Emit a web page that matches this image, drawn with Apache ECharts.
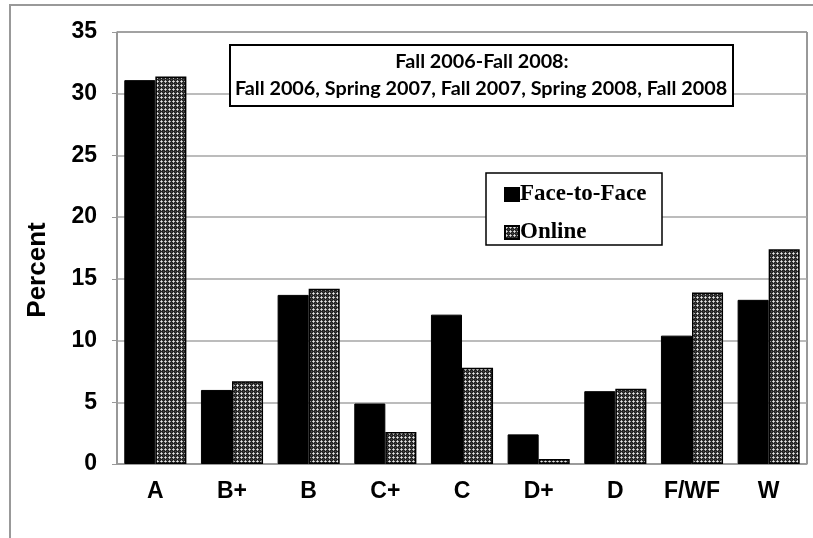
<!DOCTYPE html>
<html>
<head>
<meta charset="utf-8">
<script src="https://cdn.jsdelivr.net/npm/echarts@6/dist/echarts.min.js"></script>
<style>
  html, body { margin: 0; padding: 0; background: #fff; }
  #chart { width: 813px; height: 538px; }
</style>
</head>
<body>
<div id="chart"></div>
<script>
const categories = ['A', 'B+', 'B', 'C+', 'C', 'D+', 'D', 'F/WF', 'W'];
const faceToFace = [31.1, 6.0, 13.7, 4.9, 12.1, 2.4, 5.9, 10.4, 13.3];
const online = [31.4, 6.7, 14.2, 2.6, 7.8, 0.4, 6.1, 13.9, 17.4];
const yTicks = { min: 0, max: 35, interval: 5 };
const titleLines = ['Fall 2006-Fall 2008:', 'Fall 2006, Spring 2007, Fall 2007, Spring 2008, Fall 2008'];
const seriesNames = ['Face-to-Face', 'Online'];
const yAxisTitle = 'Percent';

function makePattern() {
  const c = document.createElement('canvas');
  c.width = 4; c.height = 4;
  const ctx = c.getContext('2d');
  const px = [
    ['#262626', '#b4b4b4', '#262626', '#262626'],
    ['#b4b4b4', '#e8e8e8', '#b4b4b4', '#262626'],
    ['#262626', '#b4b4b4', '#262626', '#262626'],
    ['#262626', '#262626', '#262626', '#4a4a4a']
  ];
  for (let y = 0; y < 4; y++) for (let x = 0; x < 4; x++) {
    ctx.fillStyle = px[y][x];
    ctx.fillRect(x, y, 1, 1);
  }
  return c;
}

const chart = echarts.init(document.getElementById('chart'), null, { renderer: 'canvas' });
const pattern = { image: makePattern(), repeat: 'repeat' };

chart.setOption({
  animation: false,
  backgroundColor: '#fff',
  grid: { left: 117, right: 6, top: 32, bottom: 74, show: true, borderColor: '#333', borderWidth: 1, backgroundColor: 'transparent' },
  legend: {
    orient: 'vertical',
    left: 499, top: 178,
    itemWidth: 14, itemHeight: 13, itemGap: 15,
    icon: 'rect',
    z: 20,
    textStyle: { fontFamily: 'Liberation Serif', fontWeight: 'bold', fontSize: 23, color: '#000', lineHeight: 22, padding: [0, 0, 0, -4] },
    data: seriesNames
  },
  xAxis: {
    type: 'category',
    data: categories,
    axisLine: { lineStyle: { color: '#999', width: 1.5 } },
    axisTick: { show: false },
    axisLabel: { color: '#000', fontFamily: 'Liberation Sans', fontWeight: 'bold', fontSize: 23, margin: 16 }
  },
  yAxis: {
    type: 'value',
    min: yTicks.min, max: yTicks.max, interval: yTicks.interval,
    axisLine: { show: true, lineStyle: { color: '#999', width: 1.5 } },
    axisTick: { show: true, inside: false, length: 5, lineStyle: { color: '#999' } },
    splitLine: { show: true, lineStyle: { color: '#a6a6a6', width: 1.5 } },
    axisLabel: { color: '#000', fontFamily: 'Liberation Sans', fontWeight: 'bold', fontSize: 23, margin: 20 }
  },
  series: [
    {
      name: seriesNames[0], type: 'bar', data: faceToFace,
      barGap: '0%', barCategoryGap: '19%',
      itemStyle: { color: '#000', borderColor: '#000', borderWidth: 1 }
    },
    {
      name: seriesNames[1], type: 'bar', data: online,
      barGap: '0%', barCategoryGap: '19%',
      itemStyle: { color: pattern, borderColor: '#000', borderWidth: 1.5 }
    }
  ],
  graphic: [
    { type: 'rect', z: -10, silent: true, shape: { x: 10, y: 5, width: 820, height: 600 }, style: { fill: 'none', stroke: '#999', lineWidth: 2 } },
    { type: 'text', z: 5, silent: true, x: 38, y: 270, rotation: Math.PI / 2, style: { text: yAxisTitle, fill: '#000', font: 'bold 26px "Liberation Sans"', align: 'center', verticalAlign: 'middle' } },
    { type: 'rect', z: 10, silent: true, shape: { x: 230, y: 45, width: 503, height: 61 }, style: { fill: '#fff', stroke: '#000', lineWidth: 2 } },
    { type: 'text', z: 11, silent: true, x: 482, y: 62, style: { text: titleLines[0], fill: '#000', font: 'bold 19.8px Lato', align: 'center', verticalAlign: 'middle' } },
    { type: 'text', z: 11, silent: true, x: 481, y: 89, style: { text: titleLines[1], fill: '#000', font: 'bold 19.8px Lato', align: 'center', verticalAlign: 'middle' } },
    { type: 'rect', z: 10, silent: true, shape: { x: 486, y: 173, width: 176, height: 72 }, style: { fill: '#fff', stroke: '#000', lineWidth: 1.5 } }
  ]
});
</script>
</body>
</html>
